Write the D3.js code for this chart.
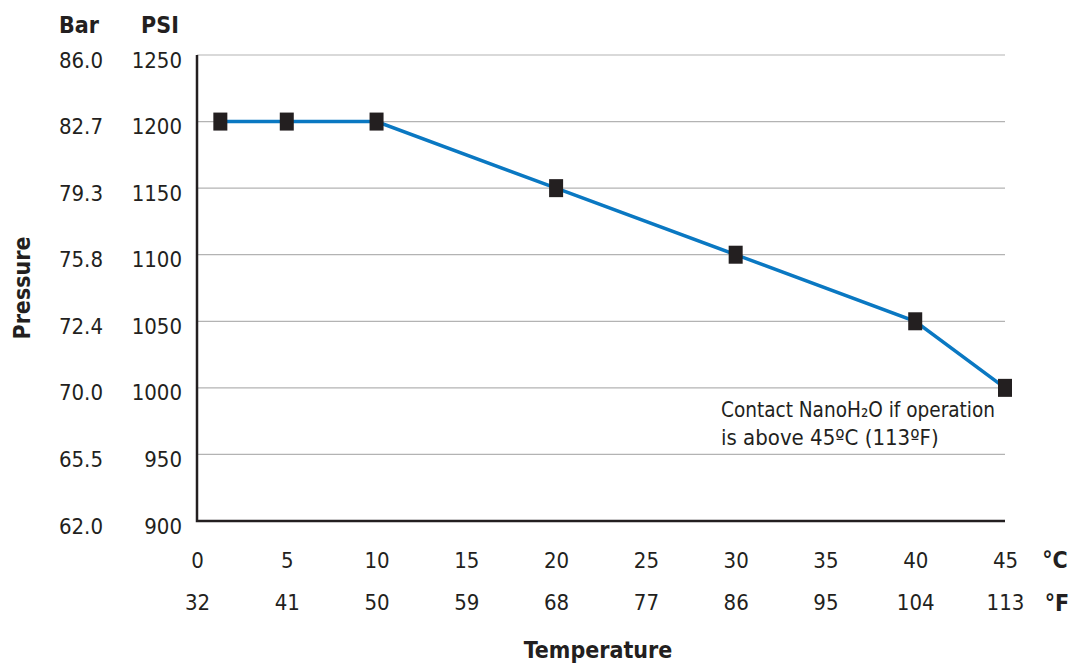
<!DOCTYPE html>
<html>
<head>
<meta charset="utf-8">
<script src="https://cdn.jsdelivr.net/npm/d3@7"></script>
<style>
  body { margin: 0; background: #fff; }
  svg text { font-family: "Liberation Sans Narrow", "DejaVu Sans Condensed", "Roboto", sans-serif; fill: #231f20; }
  .tick text { font-size: 22px; }
  .title { font-size: 23px; font-weight: bold; }
</style>
</head>
<body>
<svg width="1071" height="664"></svg>
<script>
// data
const tempC = [1.3, 5, 10, 20, 30, 40, 45];
const pressurePsi = [1200, 1200, 1200, 1150, 1100, 1050, 1000];

const psiTicks = [900, 950, 1000, 1050, 1100, 1150, 1200, 1250];
const barTicks = ["62.0", "65.5", "70.0", "72.4", "75.8", "79.3", "82.7", "86.0"];
const cTicks = [0, 5, 10, 15, 20, 25, 30, 35, 40, 45];
const fTicks = ["32", "41", "50", "59", "68", "77", "86", "95", "104", "113"];

const data = tempC.map((c, i) => ({ c, psi: pressurePsi[i] }));

const svg = d3.select("svg");

const x = d3.scaleLinear().domain([0, 45]).range([197, 1005]);
const y = d3.scaleLinear().domain([900, 1250]).range([521, 55]);

// Grid lines
svg.append("g")
  .selectAll("line")
  .data(psiTicks.slice(1))
  .join("line")
  .attr("x1", x(0))
  .attr("x2", x(45))
  .attr("y1", d => y(d))
  .attr("y2", d => y(d))
  .attr("stroke", "#b3b3b3")
  .attr("stroke-width", 1.2);

// PSI axis labels
const psiAxis = svg.append("g")
  .attr("transform", `translate(${x(0)},0)`)
  .call(d3.axisLeft(y).tickValues(psiTicks).tickSize(0).tickPadding(15).tickFormat(d3.format("d")));
psiAxis.select(".domain").remove();
psiAxis.selectAll("text").attr("dy", "0.55em");

// Bar axis labels
const barAxis = svg.append("g")
  .attr("transform", `translate(${x(0)},0)`)
  .call(d3.axisLeft(y).tickValues(psiTicks).tickSize(0).tickPadding(94)
    .tickFormat((d, i) => barTicks[i]));
barAxis.select(".domain").remove();
barAxis.selectAll("text").attr("dy", "0.55em");

// °C axis labels
const cAxis = svg.append("g")
  .attr("transform", `translate(0,${y(900)})`)
  .call(d3.axisBottom(x).tickValues(cTicks).tickSize(0).tickPadding(31).tickFormat(d3.format("d")));
cAxis.select(".domain").remove();

// °F axis labels
const fAxis = svg.append("g")
  .attr("transform", `translate(0,${y(900)})`)
  .call(d3.axisBottom(x).tickValues(cTicks).tickSize(0).tickPadding(73)
    .tickFormat((d, i) => fTicks[i]));
fAxis.select(".domain").remove();

// Axis lines
svg.append("path")
  .attr("d", `M${x(0)},${y(1250)}V${y(900)}H${x(45)}`)
  .attr("fill", "none")
  .attr("stroke", "#231f20")
  .attr("stroke-width", 2.5);

// Line
const line = d3.line()
  .x(d => x(d.c))
  .y(d => y(d.psi));

svg.append("path")
  .datum(data)
  .attr("fill", "none")
  .attr("stroke", "#0a78c2")
  .attr("stroke-width", 3.5)
  .attr("d", line);

// Square markers
svg.append("g")
  .selectAll("rect")
  .data(data)
  .join("rect")
  .attr("x", d => x(d.c) - 7)
  .attr("y", d => y(d.psi) - 9)
  .attr("width", 14)
  .attr("height", 18)
  .attr("fill", "#231f20");

// Titles
svg.append("text").attr("class", "title").attr("x", 79).attr("y", 33)
  .attr("text-anchor", "middle").text("Bar");
svg.append("text").attr("class", "title").attr("x", 160).attr("y", 33)
  .attr("text-anchor", "middle").text("PSI");

svg.append("text").attr("class", "title")
  .attr("transform", `translate(30,${(y(1250) + y(900)) / 2}) rotate(-90)`)
  .attr("text-anchor", "middle").text("Pressure");

svg.append("text").attr("class", "title").attr("x", 598).attr("y", 658)
  .attr("text-anchor", "middle").text("Temperature");

svg.append("text").attr("class", "title").attr("x", 1055).attr("y", 568)
  .attr("text-anchor", "middle").text("°C");
svg.append("text").attr("class", "title").attr("x", 1057).attr("y", 611)
  .attr("text-anchor", "middle").text("°F");

// Note
svg.append("text")
  .attr("x", 721).attr("y", 417)
  .attr("textLength", 274)
  .attr("lengthAdjust", "spacingAndGlyphs")
  .style("font-size", "22px")
  .text("Contact NanoH\u2082O if operation");
svg.append("text")
  .attr("x", 721).attr("y", 445)
  .style("font-size", "22px")
  .text("is above 45ºC (113ºF)");
</script>
</body>
</html>
